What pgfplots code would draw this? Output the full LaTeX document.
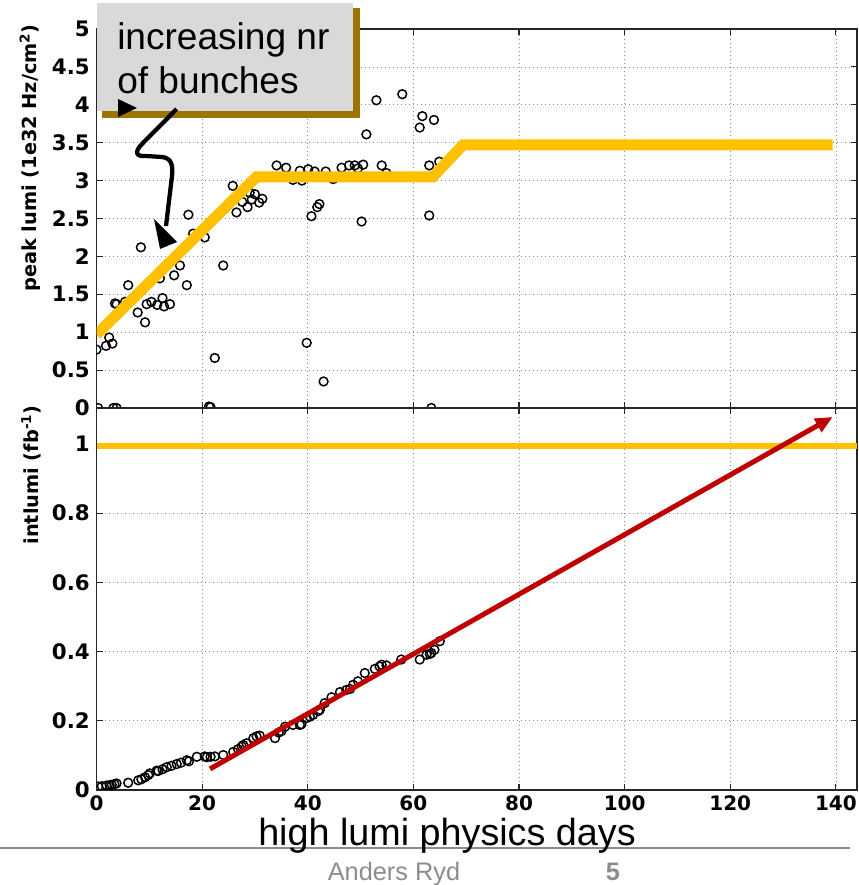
\documentclass[border=0pt]{standalone}
\usepackage{pgfplots}
\pgfplotsset{compat=1.18}
\usepackage{fontspec}
\setmainfont{Liberation Sans}
\newfontfamily\dvb{DejaVu Sans}
\usetikzlibrary{arrows.meta}
\definecolor{gold}{HTML}{FFC000}
\definecolor{darkred}{HTML}{C00000}
\definecolor{shadowc}{HTML}{9C7400}
\definecolor{boxgray}{HTML}{D9D9D9}
\definecolor{footgray}{HTML}{8C8C8C}
\pgfplotsset{
  common/.style={
    scale only axis, width=570.375pt,
    xmin=0, xmax=144, xtick={0,20,40,60,80,100,120,140},
    grid=major,
    major grid style={black!45, dash pattern=on 0.8pt off 2.2pt, line width=0.5pt},
    axis line style={line width=1.4pt, black!85},
    tick style={line width=0.8pt, black!85},
    major tick length=4.5pt, tick align=inside,
    yticklabel style={font=\dvb\bfseries\fontsize{16}{18}\selectfont, xshift=-1.5pt},
    xticklabel style={font=\dvb\bfseries\fontsize{15}{17}\selectfont, inner sep=2pt, yshift=-2pt},
    /pgf/number format/assume math mode=true,
    clip=true, clip marker paths=true,
  },
  pts/.style={only marks, mark=o, black, mark size=3.3pt, mark options={line width=1.1pt}},
}
\begin{document}
\begin{tikzpicture}
\useasboundingbox (0pt,0pt) rectangle (643.5pt,663.75pt);

% top panel: peak lumi
\begin{axis}[common, at={(72.375pt,357.75pt)}, anchor=south west, height=284.25pt,
  ymin=0, ymax=5, ytick={0,0.5,1,1.5,2,2.5,3,3.5,4,4.5,5}, xticklabels={}]
\addplot[pts] coordinates {
(0.0,0.77) (0.3,0) (1.8,0.82) (2.4,0.93) (3.0,0.85) (3.2,0) (3.5,1.38) (3.8,1.37) (3.8,0)
(5.4,1.40) (6.0,1.62) (7.8,1.26) (8.4,2.12) (9.2,1.13) (9.5,1.37) (10.4,1.40) (11.5,1.36)
(12.0,1.71) (12.5,1.45) (12.8,1.34) (13.9,1.37) (14.7,1.75) (15.8,1.88) (17.1,1.62)
(17.4,2.55) (18.3,2.30) (20.5,2.25) (21.3,0.02) (21.6,0.01) (22.4,0.66) (24.0,1.88)
(25.8,2.93) (26.5,2.58) (27.6,2.72) (28.6,2.65) (29.0,2.84) (29.4,2.75) (30.0,2.82)
(30.8,2.71) (31.4,2.76) (34.1,3.20) (35.9,3.17) (37.2,3.01) (38.5,3.13) (38.9,3.00)
(39.8,0.86) (40.1,3.15) (40.7,2.53) (41.3,3.12) (41.8,2.65) (42.2,2.69) (43.0,0.35)
(43.4,3.12) (44.8,3.02) (46.4,3.17) (47.8,3.20) (48.9,3.20) (49.5,3.16) (50.2,2.46)
(50.5,3.21) (51.1,3.61) (53.0,4.06) (54.0,3.20) (54.9,3.10) (57.9,4.14) (61.2,3.70)
(61.7,3.85) (63.0,3.20) (63.0,2.54) (63.4,0) (63.9,3.80) (64.9,3.25)
};
\addplot[gold, line width=8.25pt] coordinates {
(0,0.97) (30.3,3.05) (63.7,3.05) (69.4,3.47) (139.4,3.47)
};
\end{axis}

% bottom panel: intlumi
\begin{axis}[common, at={(72.375pt,71.25pt)}, anchor=south west, height=286.5pt,
  ymin=0, ymax=1.104, ytick={0,0.2,0.4,0.6,0.8,1}]
\addplot[pts] coordinates {
(0.3,0.010) (1.0,0.011) (1.9,0.013) (2.5,0.014) (2.9,0.015) (3.4,0.017) (3.8,0.019)
(6.0,0.021) (7.9,0.028) (8.5,0.031) (9.2,0.037) (9.8,0.043) (10.1,0.048) (11.4,0.056)
(11.7,0.055) (12.5,0.060) (13.3,0.066) (14.2,0.070) (15.2,0.075) (16.0,0.079) (17.1,0.086)
(17.5,0.083) (19.0,0.096) (20.5,0.097) (20.9,0.095) (21.6,0.096) (22.4,0.097) (24.0,0.101)
(25.9,0.110) (26.8,0.118) (27.5,0.126) (27.8,0.130) (28.4,0.135) (29.7,0.150) (30.3,0.155)
(30.9,0.157) (33.8,0.150) (34.5,0.166) (35.0,0.170) (35.7,0.183) (37.2,0.188) (38.5,0.188)
(38.8,0.190) (39.8,0.208) (40.4,0.212) (41.0,0.217) (42.0,0.228) (42.3,0.232) (43.2,0.251)
(44.5,0.268) (46.1,0.283) (47.3,0.289) (48.0,0.292) (48.6,0.304) (49.5,0.314) (50.8,0.338)
(52.7,0.350) (53.6,0.357) (54.0,0.362) (54.9,0.360) (57.7,0.377) (61.2,0.377) (62.5,0.391)
(63.1,0.393) (63.4,0.396) (64.0,0.405) (65.0,0.430)
};
\addplot[gold, line width=4.5pt] coordinates {(0,0.995) (144,0.995)};
\addplot[darkred, line width=3.75pt, -{Triangle[length=13pt,width=11pt]}] coordinates {(21.5,0.061) (139.4,1.078)};
\end{axis}

% annotations in image pixel coordinates (y downward)
\begin{scope}[shift={(0pt,663.75pt)}, x=0.75pt, y=-0.75pt]
  \node[rotate=90, font=\dvb\bfseries\fontsize{14.5}{16}\selectfont] at (30,158) {peak lumi (1e32 Hz/cm\textsuperscript{2})};
  \node[rotate=90, font=\dvb\bfseries\fontsize{14.5}{16}\selectfont] at (31,475) {intlumi (fb\textsuperscript{-1})};
  % callout box
  \fill[shadowc] (102,8) rectangle (360,118);
  \fill[boxgray] (97,3) rectangle (353,111);
  \node[anchor=base west, inner sep=0pt, font=\fontsize{27.8}{32}\selectfont] at (117,50) {increasing nr};
  \node[anchor=base west, inner sep=0pt, font=\fontsize{27.8}{32}\selectfont] at (117,94) {of bunches};
  \fill[black] (118,99) -- (137,108) -- (118,117) -- cycle;
  \draw[black, line width=3.2pt] (176.7,109) -- (142,144) .. controls (134,152) and (136,157) .. (146,156)
     -- (162,157) .. controls (172,158) and (173,166) .. (172,176) -- (166,226);
  \fill[black] (154,219) -- (177,242) -- (160,249) -- cycle;
  % footer
  \draw[footgray, line width=1.5pt] (0,848) -- (850,848);
  \node[anchor=base, inner sep=0pt, font=\fontsize{28.3}{32}\selectfont] at (447,846) {high lumi physics days};
  \node[anchor=base, inner sep=0pt, text=footgray, font=\fontsize{19}{22}\selectfont] at (394,881) {Anders Ryd};
  \node[anchor=base, inner sep=0pt, text=footgray, font=\bfseries\fontsize{19}{22}\selectfont] at (613,881) {5};
\end{scope}
\end{tikzpicture}
\end{document}
